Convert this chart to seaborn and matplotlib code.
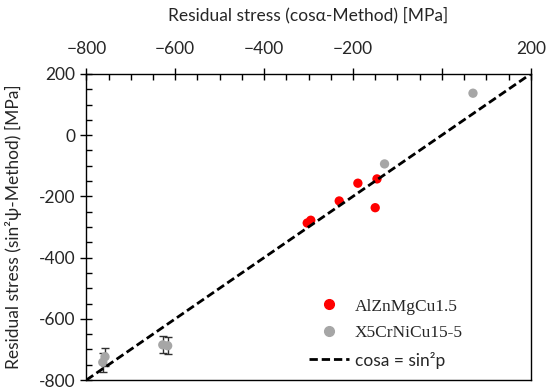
import numpy as np
import pandas as pd
import seaborn as sns
import matplotlib.pyplot as plt
from matplotlib.ticker import MultipleLocator
from matplotlib.lines import Line2D

sns.set_theme(style="white")
plt.rcParams['font.family'] = ['Lato', 'DejaVu Sans']

# cos-alpha vs sin^2 psi residual stress [MPa]
al_cos = [-303, -295, -231, -189, -146, -150]
al_sin = [-287, -278, -215, -157, -143, -237]
st_cos = [-763, -758, -628, -617, -129, 70]
st_sin = [-742, -724, -685, -688, -94, 137]
st_err = [31, 30, 28, 28, 0, 0]
line_x = [-800, 200]
xticks = [-800, -600, -400, -200, 0, 200]
xtick_labels = ['\u2212800', '\u2212600', '\u2212400', '\u2212200', '', '200']
yticks = [-800, -600, -400, -200, 0, 200]

data = pd.concat([
    pd.DataFrame({'cos': al_cos, 'sin': al_sin, 'err': 0, 'Material': 'AlZnMgCu1.5'}),
    pd.DataFrame({'cos': st_cos, 'sin': st_sin, 'err': st_err, 'Material': 'X5CrNiCu15-5'}),
])
colors = {'AlZnMgCu1.5': '#ff0000', 'X5CrNiCu15-5': '#a6a6a6'}

fig = plt.figure(figsize=(5.5, 3.89), dpi=100)
ax = fig.add_axes([0.157, 0.023, 0.808, 0.787])

eb = data[data['err'] > 0]
ax.errorbar(eb['cos'], eb['sin'], yerr=eb['err'], fmt='none', ecolor='#303030',
            elinewidth=1, capsize=3, capthick=1, zorder=1)
sns.scatterplot(data=data, x='cos', y='sin', hue='Material', palette=colors,
                s=45, linewidth=0, ax=ax, legend=False, zorder=2)
ax.plot(line_x, line_x, color='black', linestyle=(0, (3, 1.4)), linewidth=2, zorder=3)

ax.set_xlim(-800, 200)
ax.set_ylim(-800, 200)
ax.xaxis.tick_top()
ax.xaxis.set_label_position('top')
ax.set_xticks(xticks)
ax.set_xticklabels(xtick_labels)
ax.set_yticks(yticks)
ax.set_yticklabels([str(v) for v in yticks])
ax.xaxis.set_minor_locator(MultipleLocator(50))
ax.yaxis.set_minor_locator(MultipleLocator(50))
ax.tick_params(which='major', direction='inout', length=8, width=1, color='black',
               labelsize=12.5, pad=4)
ax.tick_params(axis='x', which='major', pad=8)
ax.tick_params(which='minor', direction='in', length=4, width=1, color='black')
ax.tick_params(axis='x', which='both', top=True, bottom=False)
ax.tick_params(axis='y', which='both', left=True, right=False)
for s in ax.spines.values():
    s.set_color('black')
    s.set_linewidth(1)

ax.set_xlabel('Residual stress (cos\u03b1-Method) [MPa]', fontsize=12.5, labelpad=15)
ax.set_ylabel('Residual stress (sin\u00b2\u03c8-Method) [MPa]', fontsize=12.5, labelpad=12)

handles = [
    Line2D([], [], marker='o', linestyle='none', color=colors['AlZnMgCu1.5'], markersize=7),
    Line2D([], [], marker='o', linestyle='none', color=colors['X5CrNiCu15-5'], markersize=7),
    Line2D([], [], color='black', linestyle=(0, (3, 1.4)), linewidth=2),
]
leg = ax.legend(handles, ['AlZnMgCu1.5', 'X5CrNiCu15-5', 'cosa = sin\u00b2p'],
                loc='lower left', bbox_to_anchor=(0.485, 0.015), borderaxespad=0,
                frameon=False, fontsize=12.5, handlelength=2.3, handletextpad=0.35,
                labelspacing=0.6)
for t in leg.get_texts()[:2]:
    t.set_family(['Liberation Serif', 'DejaVu Serif'])

fig.savefig('out.png', dpi=100)
